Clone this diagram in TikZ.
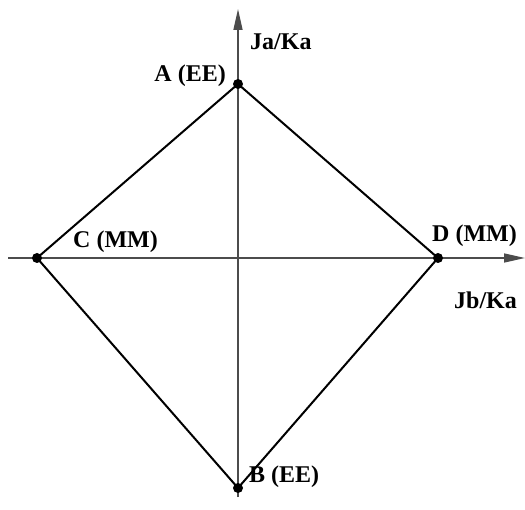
\documentclass[tikz,border=0pt]{standalone}
\usepackage{fontspec}
\setmainfont{Liberation Serif}
\usetikzlibrary{arrows.meta}
\begin{document}
\begin{tikzpicture}[x=1pt,y=-1pt,
  axis/.style={draw=black!70, line width=1.5pt, -{Triangle[length=21pt,width=9pt]}},
  edge/.style={draw=black, line width=2pt},
  dot/.style={circle, fill=black, inner sep=0pt, minimum size=10pt},
  lbl/.style={font=\bfseries\fontsize{24}{27}\selectfont, inner sep=0pt}]
\useasboundingbox (0,0) rectangle (525,510);
\coordinate (xl) at (8,258);
\coordinate (xr) at (525,258);
\coordinate (yb) at (238,497);
\coordinate (yt) at (238,9);
\draw[axis] (xl) -- (xr);
\draw[axis] (yb) -- (yt);
\node[dot] (A) at (238,84) {};
\node[dot] (B) at (238,488) {};
\node[dot] (C) at (37,258) {};
\node[dot] (D) at (438,258) {};
\draw[edge] (A.center) -- (D.center) -- (B.center) -- (C.center) -- cycle;
\node[lbl, anchor=east] (la) at (226,76) {A (EE)};
\node[lbl, anchor=west] (lb) at (249,477) {B (EE)};
\node[lbl, anchor=west] (lc) at (73,242) {C (MM)};
\node[lbl, anchor=west] (ld) at (432,236) {D (MM)};
\node[lbl, anchor=west] (lja) at (250,42) {Ja/Ka};
\node[lbl, anchor=west] (ljb) at (454,300) {Jb/Ka};
\end{tikzpicture}
\end{document}
